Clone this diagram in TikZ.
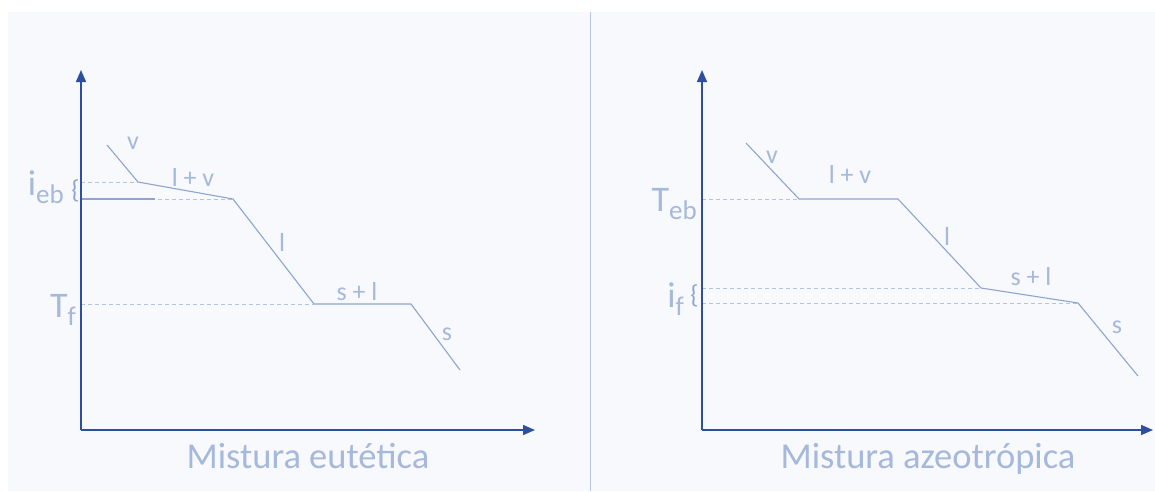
\documentclass[tikz,border=0pt]{standalone}
\usepackage{fontspec}
\setmainfont{Carlito}
\usetikzlibrary{arrows.meta}
\definecolor{axisblue}{HTML}{2E4F9E}
\definecolor{curveblue}{HTML}{8EA5D2}
\definecolor{labelblue}{HTML}{A6B8DB}
\definecolor{dashblue}{HTML}{B4C3E2}
\definecolor{panelbg}{HTML}{F7F9FC}
\definecolor{divblue}{HTML}{B7C6E6}
\newcommand{\sublabel}[2]{#1\raisebox{-8pt}{\fontsize{27}{27}\selectfont #2}}
\begin{document}
\begin{tikzpicture}[x=1pt,y=-1pt,
	axis/.style={draw=axisblue, line width=1.5pt, -{Triangle[length=12pt,width=10pt]}},
	curve/.style={draw=curveblue, line width=1.1pt},
	guide/.style={draw=dashblue, line width=1pt, dash pattern=on 4pt off 3pt},
	phase/.style={text=labelblue, font=\fontsize{26}{26}\selectfont, inner sep=0pt, anchor=base},
	temp/.style={text=labelblue, font=\fontsize{36}{36}\selectfont, inner sep=0pt, anchor=base east},
	title/.style={text=labelblue, font=\fontsize{36.5}{36.5}\selectfont, inner sep=0pt, anchor=base},
	brace/.style={text=curveblue, font=\fontsize{26}{26}\selectfont, inner sep=0pt}]
	\useasboundingbox (0,0) rectangle (1155,491);
	\fill[panelbg] (8,12) rectangle (1155,491);
	\draw[divblue, line width=1pt] (590,12) -- (590,491);

	% eutectic mixture
	\coordinate (eO) at (81,430);
	\coordinate (eY) at (81,70);
	\coordinate (eX) at (535,430);
	\coordinate (e1) at (107,145);
	\coordinate (e2) at (138,182);
	\coordinate (e3) at (233,199);
	\coordinate (e4) at (314,304);
	\coordinate (e5) at (411,304);
	\coordinate (e6) at (460,370);
	\coordinate (eA) at (81,182);
	\coordinate (eB) at (81,199);
	\coordinate (eC) at (155,199);
	\coordinate (eD) at (81,304);
	\draw[guide] (eA) -- (e2);
	\draw[guide] (eB) -- (e3);
	\draw[guide] (eD) -- (e4);
	\draw[curve] (eB) -- (eC);
	\draw[curve] (e1) -- (e2) -- (e3) -- (e4) -- (e5) -- (e6);
	\draw[axis] (eO) -- (eY);
	\draw[axis] (eO) -- (eX);
	\node[phase] (eV) at (133,149) {v};
	\node[phase] (eLV) at (193,186) {l + v};
	\node[phase] (eL) at (282,251) {l};
	\node[phase] (eSL) at (357,300) {s + l};
	\node[phase] (eS) at (447,340) {s};
	\node[temp] (eIeb) at (64,195) {\sublabel{i}{eb}};
	\node[brace] (eBr) at (75.5,191) {\{};
	\node[temp] (eTf) at (76,317) {\sublabel{T}{f}};
	\node[title] (eTitle) at (308,468) {Mistura eutética};

	% azeotropic mixture
	\coordinate (aO) at (702,430);
	\coordinate (aY) at (702,70);
	\coordinate (aX) at (1153,430);
	\coordinate (a1) at (746,143);
	\coordinate (a2) at (799,199);
	\coordinate (a3) at (898,199);
	\coordinate (a4) at (981,288);
	\coordinate (a5) at (1078,303);
	\coordinate (a6) at (1138,376);
	\coordinate (aA) at (702,199);
	\coordinate (aB) at (702,288);
	\coordinate (aC) at (702,303);
	\draw[guide] (aA) -- (a2);
	\draw[guide] (aB) -- (a4);
	\draw[guide] (aC) -- (a5);
	\draw[curve] (a1) -- (a2) -- (a3) -- (a4) -- (a5) -- (a6);
	\draw[axis] (aO) -- (aY);
	\draw[axis] (aO) -- (aX);
	\node[phase] (aV) at (772,163) {v};
	\node[phase] (aLV) at (850,183) {l + v};
	\node[phase] (aL) at (947,245) {l};
	\node[phase] (aSL) at (1031,285) {s + l};
	\node[phase] (aS) at (1117,333) {s};
	\node[temp] (aTeb) at (697,211) {\sublabel{T}{eb}};
	\node[temp] (aIf) at (684,307) {\sublabel{i}{f}};
	\node[brace] (aBr) at (694.5,296) {\{};
	\node[title] (aTitle) at (928,468) {Mistura azeotrópica};
\end{tikzpicture}
\end{document}
